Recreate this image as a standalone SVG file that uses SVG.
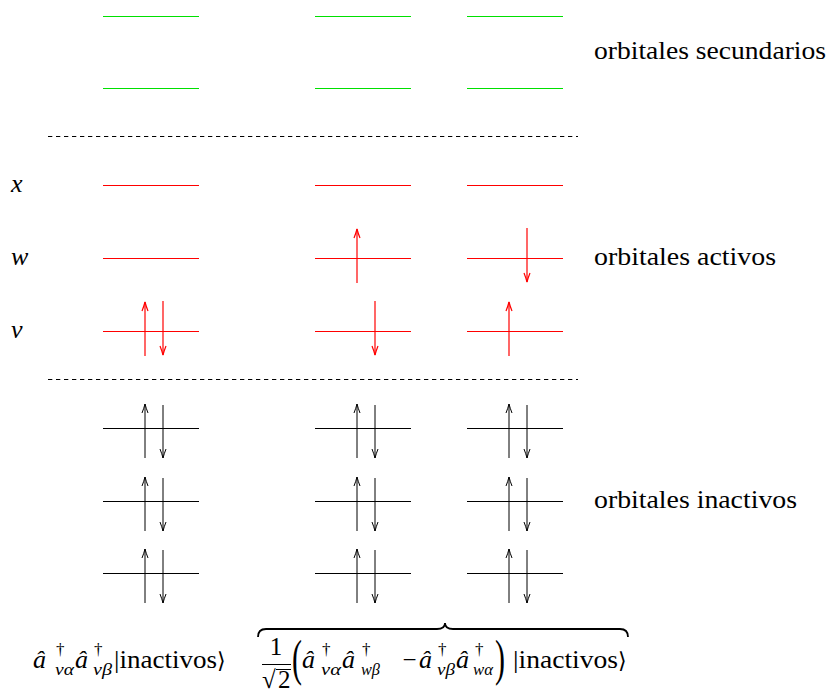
<svg xmlns="http://www.w3.org/2000/svg" width="827" height="692" viewBox="0 0 827 692">
<defs>
  <marker id="hr" markerUnits="userSpaceOnUse" viewBox="-10 -5 12 10" refX="0" refY="0" markerWidth="12" markerHeight="10" orient="auto">
    <path d="M-9,-3 Q-4,-1 0,0 Q-4,1 -9,3" stroke="#ff0000" stroke-width="1.2" fill="none"/>
  </marker>
  <marker id="hk" markerUnits="userSpaceOnUse" viewBox="-10 -5 12 10" refX="0" refY="0" markerWidth="12" markerHeight="10" orient="auto">
    <path d="M-9,-3 Q-4,-1 0,0 Q-4,1 -9,3" stroke="#000" stroke-width="1" fill="none"/>
  </marker>
</defs>

<g id="secundarios" stroke="#00e000" stroke-width="1" fill="none">
  <line x1="103" y1="16.5" x2="199" y2="16.5"/>
  <line x1="315" y1="16.5" x2="411" y2="16.5"/>
  <line x1="467" y1="16.5" x2="563" y2="16.5"/>
  <line x1="103" y1="88.5" x2="199" y2="88.5"/>
  <line x1="315" y1="88.5" x2="411" y2="88.5"/>
  <line x1="467" y1="88.5" x2="563" y2="88.5"/>
</g>

<g id="separadores" stroke="#000" stroke-width="1" stroke-dasharray="4.3 3.7" fill="none">
  <line x1="48" y1="136.5" x2="578" y2="136.5"/>
  <line x1="48" y1="379.5" x2="578" y2="379.5"/>
</g>

<g id="activos" stroke="#ff0000" stroke-width="1" fill="none">
  <line x1="103" y1="185.5" x2="199" y2="185.5"/>
  <line x1="315" y1="185.5" x2="411" y2="185.5"/>
  <line x1="467" y1="185.5" x2="563" y2="185.5"/>
  <line x1="103" y1="258.5" x2="199" y2="258.5"/>
  <line x1="315" y1="258.5" x2="411" y2="258.5"/>
  <line x1="467" y1="258.5" x2="563" y2="258.5"/>
  <line x1="103" y1="331.5" x2="199" y2="331.5"/>
  <line x1="315" y1="331.5" x2="411" y2="331.5"/>
  <line x1="467" y1="331.5" x2="563" y2="331.5"/>
</g>

<g id="inactivos" stroke="#000" stroke-width="1" fill="none">
  <line x1="103" y1="428.5" x2="199" y2="428.5"/>
  <line x1="315" y1="428.5" x2="411" y2="428.5"/>
  <line x1="467" y1="428.5" x2="563" y2="428.5"/>
  <line x1="103" y1="501.5" x2="199" y2="501.5"/>
  <line x1="315" y1="501.5" x2="411" y2="501.5"/>
  <line x1="467" y1="501.5" x2="563" y2="501.5"/>
  <line x1="103" y1="573.5" x2="199" y2="573.5"/>
  <line x1="315" y1="573.5" x2="411" y2="573.5"/>
  <line x1="467" y1="573.5" x2="563" y2="573.5"/>
</g>

<g id="electrones-activos" stroke="#ff0000" stroke-width="1.2" fill="none" marker-end="url(#hr)">
  <line x1="145" y1="356" x2="145" y2="302"/>
  <line x1="163" y1="301" x2="163" y2="355"/>
  <line x1="357" y1="283" x2="357" y2="229"/>
  <line x1="527" y1="228" x2="527" y2="282"/>
  <line x1="375" y1="301" x2="375" y2="355"/>
  <line x1="509" y1="356" x2="509" y2="302"/>
</g>
<g id="electrones-inactivos" stroke="#000" stroke-width="1" fill="none" marker-end="url(#hk)">
  <line x1="145" y1="458" x2="145" y2="404"/>
  <line x1="163" y1="405" x2="163" y2="458"/>
  <line x1="357" y1="458" x2="357" y2="404"/>
  <line x1="375" y1="405" x2="375" y2="458"/>
  <line x1="509" y1="458" x2="509" y2="404"/>
  <line x1="527" y1="405" x2="527" y2="458"/>
  <line x1="145" y1="531" x2="145" y2="477"/>
  <line x1="163" y1="478" x2="163" y2="531"/>
  <line x1="357" y1="531" x2="357" y2="477"/>
  <line x1="375" y1="478" x2="375" y2="531"/>
  <line x1="509" y1="531" x2="509" y2="477"/>
  <line x1="527" y1="478" x2="527" y2="531"/>
  <line x1="145" y1="603" x2="145" y2="549"/>
  <line x1="163" y1="550" x2="163" y2="603"/>
  <line x1="357" y1="603" x2="357" y2="549"/>
  <line x1="375" y1="550" x2="375" y2="603"/>
  <line x1="509" y1="603" x2="509" y2="549"/>
  <line x1="527" y1="550" x2="527" y2="603"/>
</g>

<g id="etiquetas">
  <text font-family="Liberation Serif" font-style="italic" font-size="26" x="11" y="192">x</text>
  <text font-family="Liberation Serif" font-style="italic" font-size="26" x="11" y="265">w</text>
  <text font-family="Liberation Serif" font-style="italic" font-size="26" x="11" y="338">v</text>
  <text font-family="Liberation Serif" font-size="25" x="594" y="59" textLength="232" lengthAdjust="spacingAndGlyphs">orbitales secundarios</text>
  <text font-family="Liberation Serif" font-size="25" x="594" y="265" textLength="182" lengthAdjust="spacingAndGlyphs">orbitales activos</text>
  <text font-family="Liberation Serif" font-size="25" x="594" y="508" textLength="203" lengthAdjust="spacingAndGlyphs">orbitales inactivos</text>
</g>

<g id="formula1">
  <text font-family="Liberation Serif" font-style="italic" font-size="26" x="33" y="668">â</text>
  <text font-family="Liberation Serif" font-size="17" x="56" y="655">†</text>
  <text font-family="Liberation Serif" font-style="italic" font-size="17" x="55" y="675" textLength="19" lengthAdjust="spacingAndGlyphs">vα</text>
  <text font-family="Liberation Serif" font-style="italic" font-size="26" x="75" y="668">â</text>
  <text font-family="Liberation Serif" font-size="17" x="94" y="655">†</text>
  <text font-family="Liberation Serif" font-style="italic" font-size="17" x="93" y="675" textLength="19" lengthAdjust="spacingAndGlyphs">vβ</text>
  <text font-family="Liberation Serif" font-size="25" x="114" y="668" textLength="103" lengthAdjust="spacingAndGlyphs">|inactivos</text>
  <text font-family="DejaVu Serif" font-size="22" x="217" y="668">⟩</text>
</g>

<g id="formula2">
  <path d="M258,637 Q258,629 266,629 L437,629 Q445,629 445,623 Q445,629 453,629 L620,629 Q628,629 628,637" stroke="#000" stroke-width="1.8" fill="none"/>
  <text font-family="Liberation Serif" font-size="25" x="276" y="655" text-anchor="middle">1</text>
  <line x1="262" y1="664.5" x2="291" y2="664.5" stroke="#000" stroke-width="1"/>
  <text font-family="Liberation Serif" font-size="25" x="262" y="688">√</text>
  <line x1="276" y1="669.5" x2="291" y2="669.5" stroke="#000" stroke-width="1"/>
  <text font-family="Liberation Serif" font-size="25" x="278" y="688">2</text>
  <text font-family="Liberation Serif" font-size="30" transform="translate(292,675) scale(1,1.7)">(</text>
  <text font-family="Liberation Serif" font-style="italic" font-size="26" x="302" y="668">â</text>
  <text font-family="Liberation Serif" font-size="17" x="322" y="655">†</text>
  <text font-family="Liberation Serif" font-style="italic" font-size="17" x="321" y="675" textLength="20" lengthAdjust="spacingAndGlyphs">vα</text>
  <text font-family="Liberation Serif" font-style="italic" font-size="26" x="342" y="668">â</text>
  <text font-family="Liberation Serif" font-size="17" x="362" y="655">†</text>
  <text font-family="Liberation Serif" font-style="italic" font-size="17" x="361" y="675" textLength="19" lengthAdjust="spacingAndGlyphs">wβ</text>
  <text font-family="Liberation Serif" font-size="25" x="409.5" y="668" text-anchor="middle">−</text>
  <text font-family="Liberation Serif" font-style="italic" font-size="26" x="419" y="668">â</text>
  <text font-family="Liberation Serif" font-size="17" x="438" y="655">†</text>
  <text font-family="Liberation Serif" font-style="italic" font-size="17" x="437" y="675" textLength="18" lengthAdjust="spacingAndGlyphs">vβ</text>
  <text font-family="Liberation Serif" font-style="italic" font-size="26" x="456" y="668">â</text>
  <text font-family="Liberation Serif" font-size="17" x="475" y="655">†</text>
  <text font-family="Liberation Serif" font-style="italic" font-size="17" x="473" y="675" textLength="20" lengthAdjust="spacingAndGlyphs">wα</text>
  <text font-family="Liberation Serif" font-size="30" transform="translate(495,675) scale(1,1.7)">)</text>
  <text font-family="Liberation Serif" font-size="25" x="513" y="668" textLength="105" lengthAdjust="spacingAndGlyphs">|inactivos</text>
  <text font-family="DejaVu Serif" font-size="22" x="618" y="668">⟩</text>
</g>
</svg>
